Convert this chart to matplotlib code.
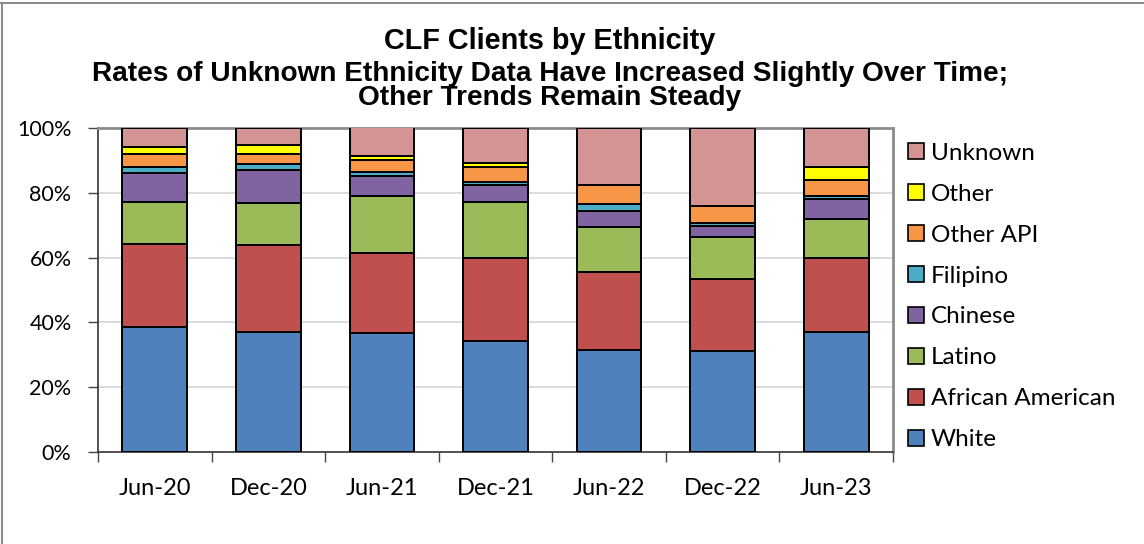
import matplotlib
matplotlib.use("Agg")
import matplotlib.pyplot as plt
from matplotlib.patches import Patch
from matplotlib.lines import Line2D
import numpy as np

categories = ["Jun-20", "Dec-20", "Jun-21", "Dec-21", "Jun-22", "Dec-22", "Jun-23"]
white = [38.6, 37.1, 36.8, 34.3, 31.4, 31.3, 37.1]
african_american = [25.7, 26.8, 24.5, 25.5, 24.3, 22.2, 22.9]
latino = [12.9, 13.1, 17.8, 17.5, 13.8, 13.0, 12.0]
chinese = [8.9, 9.9, 6.1, 5.0, 5.0, 3.1, 6.1]
filipino = [1.9, 2.1, 1.1, 1.0, 1.9, 1.1, 0.9]
other_api = [4.0, 3.0, 3.9, 4.8, 5.9, 5.1, 5.0]
other = [2.0, 2.8, 1.1, 1.1, 0.0, 0.0, 4.0]
unknown = [6.0, 5.2, 8.9, 10.8, 17.7, 24.2, 12.0]

series_names = ["White", "African American", "Latino", "Chinese", "Filipino",
                "Other API", "Other", "Unknown"]
series_values = [white, african_american, latino, chinese, filipino,
                 other_api, other, unknown]
colors = ["#4F81BD", "#C0504D", "#9BBB59", "#8064A2", "#4BACC6",
          "#F79646", "#FFFF00", "#D49494"]

label_font = "Lato"
title_font = "Liberation Sans"

fig = plt.figure(figsize=(11.44, 5.44), dpi=100)
ax = fig.add_axes([98 / 1144, 1 - 452 / 544, (893 - 98) / 1144, (452 - 128) / 544])

x = np.arange(len(categories))
bottom = np.zeros(len(categories))
for name, vals, c in zip(series_names, series_values, colors):
    v = np.array(vals)
    ax.bar(x, v, bottom=bottom, width=0.57, color=c, edgecolor="black",
           linewidth=1.4, zorder=3)
    bottom += v

ax.set_xlim(-0.5, len(categories) - 0.5)
ax.set_ylim(0, 100)
ax.set_yticks([0, 20, 40, 60, 80, 100])
ax.set_yticklabels(["0%", "20%", "40%", "60%", "80%", "100%"],
                   fontfamily=label_font, fontsize=15.5)
ax.set_xticks(x)
ax.set_xticklabels(categories, fontfamily=label_font, fontsize=17)
ax.tick_params(axis="x", length=0, pad=19)
ax.set_xticks(np.arange(-0.5, len(categories) - 0.4, 1), minor=True)
ax.tick_params(axis="x", which="minor", length=7, width=1.0, color="#444444",
               direction="out")
ax.tick_params(axis="y", length=7, width=1.0, color="#444444", pad=12)

for yv in [20, 40, 60, 80]:
    ax.axhline(yv, color="#D4D4D4", linewidth=1.2, zorder=1)

ax.spines["left"].set_color("#333333")
ax.spines["left"].set_linewidth(1.2)
ax.spines["bottom"].set_color("#333333")
ax.spines["bottom"].set_linewidth(1.2)
ax.spines["top"].set_color("#8C8C8C")
ax.spines["top"].set_linewidth(2.0)
ax.spines["right"].set_color("#8C8C8C")
ax.spines["right"].set_linewidth(2.0)

handles = [Patch(facecolor=c, edgecolor="black", linewidth=1.2, label=n)
           for n, c in zip(series_names, colors)][::-1]
leg = fig.legend(handles=handles, loc="upper left",
                 bbox_to_anchor=(898 / 1144, 1 - 133 / 544),
                 frameon=False, prop={"family": label_font, "size": 17.5},
                 handlelength=0.66, handleheight=0.66, handletextpad=0.3,
                 labelspacing=0.82, borderaxespad=0)

fig.text(550 / 1144, 1 - 41 / 544, "CLF Clients by Ethnicity",
         ha="center", va="center", fontfamily=title_font, fontweight="bold",
         fontsize=20.8)
fig.text(550 / 1144, 1 - 74 / 544,
         "Rates of Unknown Ethnicity Data Have Increased Slightly Over Time;",
         ha="center", va="center", fontfamily=title_font, fontweight="bold",
         fontsize=20.2)
fig.text(550 / 1144, 1 - 98 / 544, "Other Trends Remain Steady",
         ha="center", va="center", fontfamily=title_font, fontweight="bold",
         fontsize=20.2)

# outer chart frame
fig.add_artist(Line2D([2 / 1144, 2 / 1144], [0, 1 - 3 / 544],
                      transform=fig.transFigure, color="#8C8C8C", linewidth=1.5))
fig.add_artist(Line2D([0, 1], [1 - 3 / 544, 1 - 3 / 544],
                      transform=fig.transFigure, color="#8C8C8C", linewidth=1.5))

fig.savefig("out.png", dpi=100)
